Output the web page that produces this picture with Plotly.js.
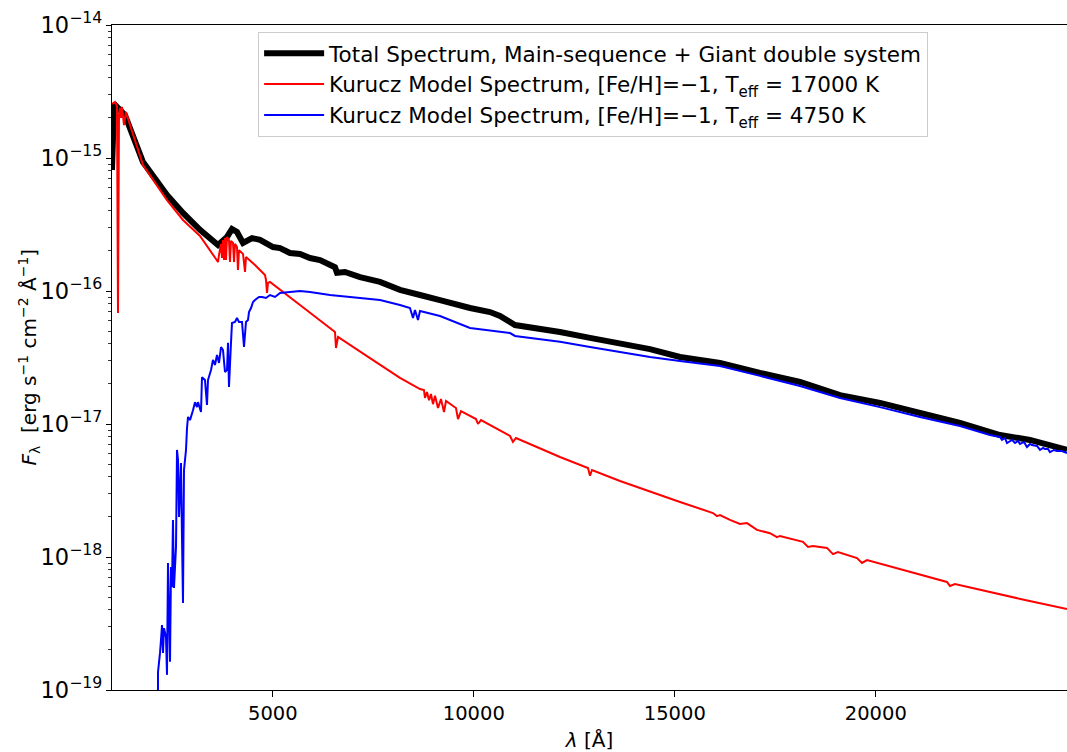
<!DOCTYPE html>
<html>
<head>
<meta charset="utf-8">
<script src="https://cdn.plot.ly/plotly-3.0.1.min.js"></script>
<style>html,body{margin:0;padding:0;background:#fff;}#chart{width:1067px;height:752px;}</style>
</head>
<body>
<div id="chart"></div>
<script>
// Total spectrum (black)
const totalWave = [1000,1050,1149,1323,1771,2368,2766,3189,3637,3861,3985,4109,4259,4483,4682,5005,5180,5428,5677,5925,6174,6547,6597,6796,7169,7667,8164,8662,9159,9906,10403,10652,11025,12144,12891,14383,15130,16125,17120,18115,19110,20105,21100,22095,23090,23836,24757];
const totalFlux = [8.13e-16,2.55e-15,2.38e-15,2.10e-15,9.33e-16,5.27e-16,3.86e-16,2.88e-16,2.22e-16,2.55e-16,2.92e-16,2.78e-16,2.30e-16,2.50e-16,2.42e-16,2.14e-16,2.10e-16,1.93e-16,1.90e-16,1.77e-16,1.71e-16,1.51e-16,1.37e-16,1.39e-16,1.27e-16,1.17e-16,1.02e-16,9.33e-17,8.55e-17,7.45e-17,6.95e-17,6.49e-17,5.55e-17,4.92e-17,4.44e-17,3.66e-17,3.19e-17,2.88e-17,2.42e-17,2.07e-17,1.65e-17,1.44e-17,1.21e-17,1.02e-17,8.26e-18,7.59e-18,6.38e-18];

// Kurucz model, Teff = 17000 K (red)
const hotWave = [1000,1075,1124,1149,1174,1199,1224,1249,1299,1348,1448,1771,2368,2766,3189,3587,3637,3662,3712,3736,3761,3786,3811,3836,3861,3910,3935,3960,4010,4035,4060,4109,4134,4159,4259,4309,4333,4557,4806,4831,4856,4881,4930,5677,6547,6572,6622,7418,8164,8662,8761,8786,8836,8886,8935,8985,9035,9110,9184,9259,9309,9557,9607,9682,10055,10105,10179,10901,10975,11050,12144,12841,12891,12940,13637,15130,15951,16050,16125,16373,16622,16796,17045,17368,17542,17617,18189,18314,18438,18786,18935,19060,19533,19657,19782,21771,21846,21970,23712,24757];
const hotFlux = [2.55e-15,2.64e-15,2.46e-15,6.84e-17,2.10e-15,2.38e-15,2.00e-15,2.42e-15,1.77e-15,2.22e-15,1.77e-15,8.85e-16,4.83e-16,3.42e-16,2.59e-16,1.74e-16,1.65e-16,1.87e-16,2.26e-16,1.77e-16,2.42e-16,1.71e-16,2.50e-16,1.71e-16,2.55e-16,2.42e-16,1.65e-16,2.38e-16,2.30e-16,1.65e-16,2.26e-16,2.14e-16,1.44e-16,2.03e-16,1.90e-16,1.39e-16,1.80e-16,1.57e-16,1.32e-16,1.21e-16,9.66e-17,1.15e-16,1.17e-16,7.85e-17,4.92e-17,3.73e-17,4.51e-17,3.13e-17,2.22e-17,1.83e-17,1.80e-17,1.57e-17,1.74e-17,1.51e-17,1.68e-17,1.41e-17,1.63e-17,1.32e-17,1.54e-17,1.23e-17,1.49e-17,1.32e-17,1.09e-17,1.25e-17,1.09e-17,1.00e-17,1.07e-17,8.13e-18,7.33e-18,7.85e-18,5.65e-18,4.67e-18,4.08e-18,4.51e-18,3.73e-18,2.59e-18,2.14e-18,2.03e-18,2.07e-18,1.90e-18,1.77e-18,1.80e-18,1.60e-18,1.51e-18,1.41e-18,1.44e-18,1.30e-18,1.19e-18,1.21e-18,1.17e-18,1.05e-18,1.09e-18,9.82e-19,9.02e-19,9.49e-19,6.49e-19,6.05e-19,6.27e-19,4.75e-19,4.06e-19];

// Kurucz model, Teff = 4750 K (blue)
const coolWave = [2119,2144,2144,2194,2219,2244,2269,2294,2343,2368,2393,2443,2468,2493,2517,2542,2592,2617,2642,2667,2716,2741,2766,2791,2841,2866,2891,2940,3015,3065,3114,3139,3214,3239,3313,3363,3388,3463,3512,3562,3612,3662,3712,3761,3811,3861,3886,3910,3960,3985,4060,4109,4159,4234,4284,4333,4383,4408,4458,4508,4557,4657,4731,4831,4930,5055,5180,5428,5677,5925,6423,6672,7169,7667,8164,8413,8488,8537,8612,8662,9159,9906,10901,11025,12144,12891,13637,14383,15130,16125,17120,18115,19110,20105,21100,22095,22841,23090,23140,23214,23264,23388,23463,23538,23587,23687,23762,23836,23886,24010,24085,24159,24209,24284,24333,24433,24508,24632,24757];
const coolFlux = [6.0e-20,1.03e-19,1.36e-19,1.90e-19,2.38e-19,3.08e-19,1.90e-19,2.92e-19,2.50e-19,1.30e-19,9.02e-19,1.63e-19,8.41e-19,5.94e-19,1.90e-18,5.85e-19,1.19e-18,6.38e-18,5.36e-18,2.00e-18,5.09e-18,1.41e-18,4.51e-19,4.51e-18,6.38e-18,9.33e-18,1.13e-17,1.07e-17,1.27e-17,1.46e-17,1.34e-17,1.46e-17,1.23e-17,2.25e-17,2.14e-17,1.39e-17,2.14e-17,2.55e-17,3.03e-17,2.78e-17,3.30e-17,2.88e-17,3.79e-17,3.60e-17,2.46e-17,2.55e-17,4.08e-17,1.90e-17,4.08e-17,5.74e-17,5.85e-17,6.27e-17,5.85e-17,5.85e-17,3.79e-17,5.85e-17,6.05e-17,6.95e-17,7.45e-17,8.26e-17,8.55e-17,9.02e-17,9.02e-17,8.86e-17,9.33e-17,9.02e-17,9.66e-17,9.82e-17,1.00e-16,9.82e-17,9.33e-17,9.17e-17,8.86e-17,8.55e-17,7.85e-17,7.45e-17,6.27e-17,7.19e-17,6.05e-17,7.08e-17,6.49e-17,5.27e-17,4.83e-17,4.59e-17,4.15e-17,3.79e-17,3.48e-17,3.19e-17,2.98e-17,2.73e-17,2.30e-17,1.93e-17,1.57e-17,1.34e-17,1.13e-17,9.66e-18,8.26e-18,7.99e-18,7.59e-18,7.85e-18,7.19e-18,7.59e-18,7.19e-18,7.45e-18,7.08e-18,7.33e-18,6.71e-18,7.08e-18,6.95e-18,6.84e-18,6.38e-18,6.61e-18,6.49e-18,6.49e-18,6.15e-18,6.38e-18,6.27e-18,6.27e-18,6.05e-18];

const seriesNames = [
  'Total Spectrum, Main-sequence + Giant double system',
  'Kurucz Model Spectrum, [Fe/H]=\u22121, T<sub>eff</sub> = 17000 K',
  'Kurucz Model Spectrum, [Fe/H]=\u22121, T<sub>eff</sub> = 4750 K'
];
const xTickVals = [5000,10000,15000,20000];
const xTickText = ['5000','10000','15000','20000'];
const xTitle = '<i>λ</i> [Å]';
const yTitle = '<i>F</i><sub>λ</sub>  [erg s<sup>−1</sup> cm<sup>−2</sup> Å<sup>−1</sup>]';

const FONT = 'DejaVu Sans, sans-serif';

const traces = [
  {x: totalWave, y: totalFlux, type: 'scatter', mode: 'lines', name: seriesNames[0],
   line: {color: '#000000', width: 6, simplify: false}},
  {x: hotWave, y: hotFlux, type: 'scatter', mode: 'lines', name: seriesNames[1],
   line: {color: '#ff0000', width: 2, simplify: false}},
  {x: coolWave, y: coolFlux, type: 'scatter', mode: 'lines', name: seriesNames[2],
   line: {color: '#0000ff', width: 2, simplify: false}}
];

const layout = {
  width: 1067, height: 752,
  margin: {l: 112, r: 0, t: 25, b: 62, pad: 0},
  paper_bgcolor: '#ffffff', plot_bgcolor: '#ffffff',
  font: {family: FONT, size: 20, color: '#000'},
  showlegend: true,
  hovermode: false,
  legend: {
    x: 0.153, y: 0.99, xanchor: 'left', yanchor: 'top',
    bgcolor: 'rgba(255,255,255,0.9)', bordercolor: '#cccccc', borderwidth: 1,
    font: {family: FONT, size: 21.5, color: '#000'},
    tracegroupgap: 0, itemwidth: 60
  },
  xaxis: {
    range: [1000, 24757], type: 'linear',
    tickvals: xTickVals, ticktext: xTickText,
    ticks: 'outside', ticklen: 6, tickwidth: 1, tickcolor: '#000',
    showgrid: false, zeroline: false,
    showline: true, linecolor: '#000', linewidth: 1, mirror: true,
    tickfont: {family: FONT, size: 19.5},
    title: {text: xTitle, font: {family: FONT, size: 20}, standoff: 8}
  },
  yaxis: {
    type: 'log', range: [-19, -14],
    dtick: 1, exponentformat: 'power',
    ticks: 'outside', ticklen: 5, tickwidth: 1, tickcolor: '#000',
    minor: {ticks: 'outside', ticklen: 3, tickwidth: 0.8, tickcolor: '#000', showgrid: false},
    showgrid: false, zeroline: false,
    showline: true, linecolor: '#000', linewidth: 1, mirror: false,
    tickfont: {family: FONT, size: 18}
  },
  annotations: [{
    text: yTitle, xref: 'paper', yref: 'paper',
    x: -(112 - 29) / 955, y: 0.5, xanchor: 'center', yanchor: 'middle',
    textangle: -90, showarrow: false,
    font: {family: FONT, size: 20, color: '#000'}
  }]
};

Plotly.newPlot('chart', traces, layout, {displayModeBar: false, staticPlot: true});
</script>
</body>
</html>
